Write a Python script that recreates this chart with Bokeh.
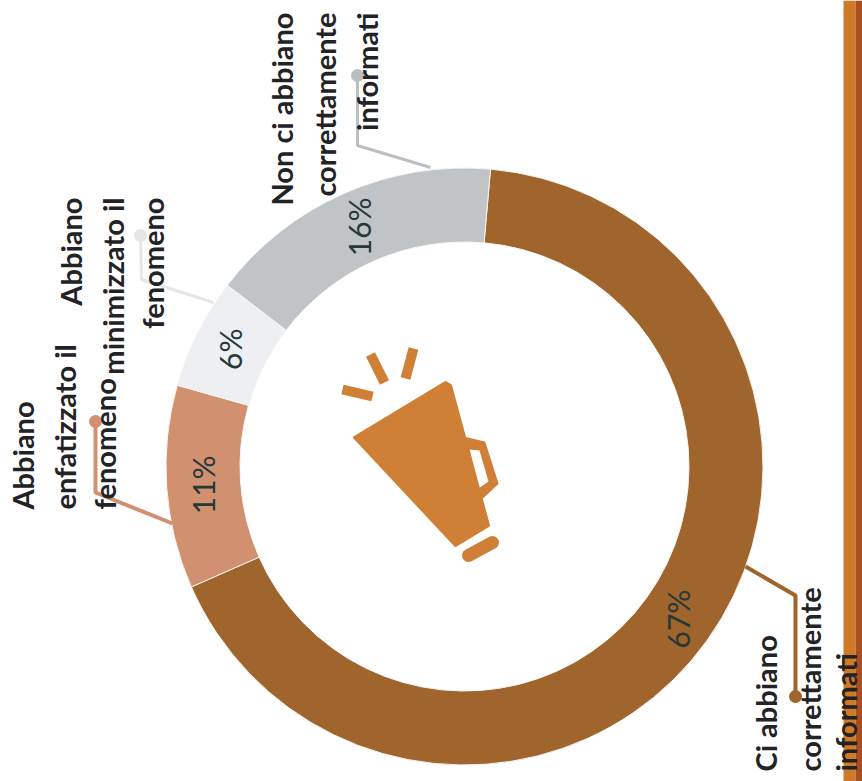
from math import radians, cos, sin
from bokeh.plotting import figure
from bokeh.core.properties import value
from bokeh.embed import file_html
from bokeh.resources import INLINE

categories = ["Ci abbiano correttamente informati", "Abbiano enfatizzato il fenomeno",
              "Abbiano minimizzato il fenomeno", "Non ci abbiano correttamente informati"]
percent = [67, 11, 6, 16]
colors = ["#a0652c", "#d1906f", "#eeeff2", "#c0c4c6"]
line_colors = ["#a0652c", "#d1906f", "#e6e6e8", "#bcbfc2"]
line_widths = [4, 4, 3, 3]

W, H = 862, 781
def Y(py):
    return H - py

p = figure(width=W, height=H, output_backend="svg", toolbar_location=None,
           x_range=(0, W), y_range=(0, H),
           min_border=0, outline_line_color=None, background_fill_color="white")
p.xaxis.visible = False
p.yaxis.visible = False
p.grid.visible = False

cx, cy, r_in, r_out = 464, Y(466), 224.5, 298.5
start = 85.0
mids = []
for pct, col in zip(percent, colors):
    end = start - pct * 3.6
    p.annular_wedge(x=[cx], y=[cy], inner_radius=r_in, outer_radius=r_out,
                    start_angle=radians(end), end_angle=radians(start),
                    fill_color=col, line_color="#f5f5f0", line_width=1)
    mids.append(radians((start + end) / 2))
    start = end

# right-hand band
p.quad(left=[843], right=[855], bottom=[Y(781)], top=[Y(0)], fill_color="#d07a28", line_color=None)
p.quad(left=[855], right=[862], bottom=[Y(781)], top=[Y(0)], fill_color="#a84e20", line_color=None)

# leaders: (x, page y) from the dot to the ring
leaders = [
    ([795, 795, 745], [696, 595, 566]),
    ([95, 95, 172], [421, 492, 523]),
    ([140, 141, 213], [235, 279, 302]),
    ([357, 357, 430], [75, 145, 167]),
]
for (xs, ys), col, lw in zip(leaders, line_colors, line_widths):
    p.line(xs, [Y(v) for v in ys], line_color=col, line_width=lw)
    p.scatter([xs[0]], [Y(ys[0])], size=13, marker="circle", fill_color=col, line_color=None)

# megaphone
orange = "#d08036"
p.patch([463, 484, 497, 481], [Y(v) for v in [437, 442, 483, 498]], fill_color=orange, line_color=orange, line_join="round", line_width=2)
p.patch([469, 479, 488, 478], [Y(v) for v in [449, 450, 481, 488]], fill_color="white", line_color=None)
p.patch([354, 445, 450, 488, 455], [Y(v) for v in [437, 382, 385, 525, 545]], fill_color=orange, line_color=orange, line_width=3, line_join="round")
p.line([468, 492], [Y(555), Y(542)], line_color=orange, line_width=13, line_cap="round")
for xs, ys in [([342, 372], [389, 396]), ([370, 384], [354, 382]), ([413, 405], [348, 378])]:
    p.line(xs, [Y(v) for v in ys], line_color=orange, line_width=10)

# percentages on the ring
r_lab = 262
for pct, a in zip(percent, mids):
    p.text([cx + r_lab * cos(a)], [cy + r_lab * sin(a)], text=[f"{pct}%"], angle=radians(90),
           text_font=value("Lato"), text_font_size="30px", text_color="#26383a",
           text_align="center", text_baseline="middle")

# category labels, rotated as in the source page
label_blocks = [
    (["Non ci abbiano", "correttamente", "informati"], [281, 324, 366], 12, "right"),
    (["Abbiano", "minimizzato il", "fenomeno"], [70, 112, 152], 197, "right"),
    (["Abbiano", "enfatizzato il", "fenomeno"], [22, 64, 104], 509, "left"),
    (["Ci abbiano", "correttamente", "informati"], [765, 809, 845], 771, "left"),
]
for lines, xs, py, align in label_blocks:
    for line, x in zip(lines, xs):
        p.text([x], [Y(py)], text=[line], angle=radians(90),
               text_font=value("Lato"), text_font_size="29px", text_font_style="bold",
               text_color="#232326", text_align=align, text_baseline="middle")

open("out.html", "w").write(file_html(p, INLINE))
